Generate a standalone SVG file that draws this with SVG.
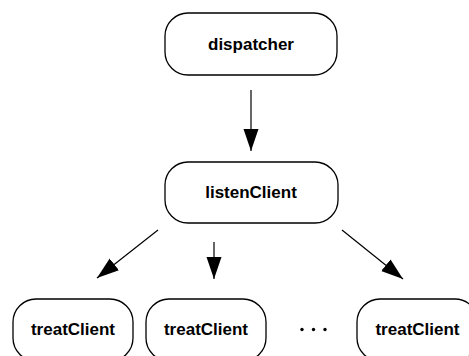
<svg xmlns="http://www.w3.org/2000/svg" width="469" height="356" viewBox="0 0 469 356">
<style>
.box{fill:#fff;stroke:#000;stroke-width:1.3}
.lbl{font-family:"Liberation Sans",Arial,sans-serif;font-weight:bold;font-size:17px;text-anchor:middle;fill:#000}
.edge{stroke:#000;stroke-width:1.2;fill:none}
</style>
<defs>
<marker id="ah" markerUnits="userSpaceOnUse" markerWidth="24" markerHeight="16" refX="22" refY="7.5" orient="auto">
<path d="M0,0 L22,7.5 L0,15 Z" fill="#000"/>
</marker>
</defs>
<rect width="469" height="356" fill="#fff"/>
<g id="connectors">
<line class="edge" x1="251" y1="90" x2="251" y2="151" marker-end="url(#ah)"/>
<line class="edge" x1="214" y1="242" x2="214" y2="279" marker-end="url(#ah)"/>
<line class="edge" x1="158" y1="230" x2="97" y2="278" marker-end="url(#ah)"/>
<line class="edge" x1="342" y1="230" x2="403" y2="279" marker-end="url(#ah)"/>
</g>
<g id="dispatcher">
<rect class="box" x="165" y="13" width="172" height="62" rx="23"/>
<text class="lbl" x="251" y="50">dispatcher</text>
</g>
<g id="listenClient">
<rect class="box" x="165" y="162" width="173" height="61" rx="23"/>
<text class="lbl" x="251" y="198">listenClient</text>
</g>
<g id="treatClient1">
<rect class="box" x="13" y="299" width="120" height="62" rx="23"/>
<text class="lbl" x="73" y="335">treatClient</text>
</g>
<g id="treatClient2">
<rect class="box" x="146" y="299" width="120" height="62" rx="23"/>
<text class="lbl" x="206" y="335">treatClient</text>
</g>
<g id="ellipsis">
<circle cx="302" cy="329.5" r="1.7"/>
<circle cx="313.5" cy="329.5" r="1.7"/>
<circle cx="325" cy="329.5" r="1.7"/>
</g>
<g id="treatClient3">
<rect class="box" x="357" y="299" width="121" height="62" rx="23"/>
<text class="lbl" x="417.5" y="335">treatClient</text>
</g>
</svg>
